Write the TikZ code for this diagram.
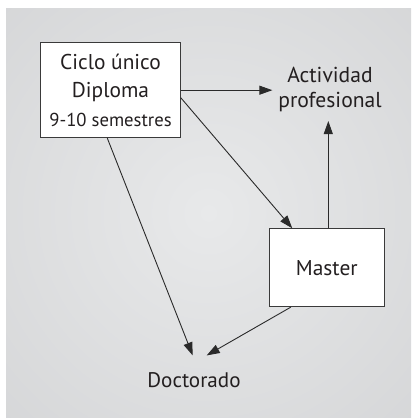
\documentclass[tikz,border=0pt]{standalone}
\usepackage{fontspec}
\setmainfont{PT Sans}
\usetikzlibrary{arrows.meta}
\definecolor{bgin}{HTML}{E8E9EA}
\definecolor{bgout}{HTML}{C4C5C7}
\definecolor{ink}{HTML}{231F20}
\definecolor{boxline}{HTML}{3A3A3A}
\definecolor{arrcol}{HTML}{2A2A2A}
\pgfdeclareradialshading{panelshade}{\pgfpoint{0bp}{0bp}}{color(0bp)=(bgin); color(72bp)=(bgout)}
\begin{document}
\begin{tikzpicture}[x=1pt,y=-1pt,
  box/.style={draw=boxline, fill=white, line width=0.9pt, text=ink, align=center, inner sep=0pt},
  lbl/.style={text=ink, align=center, inner sep=0pt},
  arr/.style={-{Triangle[length=13pt,width=9pt]}, draw=arrcol, line width=0.9pt},
  bigfont/.style={font=\fontsize{21.4}{28.5}\selectfont}]
\fill[white] (0,0) rectangle (411,419);
\path[shading=panelshade] (6,9) rectangle (411,417);
\useasboundingbox (0,0) rectangle (411,419);
\node[box, bigfont, minimum width=139.6pt, minimum height=95pt] (ciclo) at (110.5,90.2)
  {Ciclo único\\Diploma\\\fontsize{18.7}{28.5}\selectfont 9-10 semestres};
\node[box, bigfont, minimum width=115pt, minimum height=78pt] (master) at (326.8,267.7) {Master};
\node[lbl, font=\fontsize{21.6}{25}\selectfont, outer xsep=6pt, outer ysep=9.5pt] (act) at (330,89.2) {Actividad\\profesional};
\node[lbl, font=\fontsize{21.1}{24}\selectfont, outer ysep=17pt] (doc) at (194,380) {Doctorado};
\draw[arr] (ciclo.east) -- (ciclo.east -| act.west);
\draw[arr] ([yshift=-7.5pt]ciclo.east) -- ([xshift=23.4pt]master.north west);
\draw[arr] ([xshift=1.5pt]master.north) -- ([xshift=1.5pt]master.north |- act.south);
\draw[arr] ([xshift=-3.2pt]ciclo.south) -- ([xshift=-1.3pt]doc.north);
\draw[arr] ([xshift=-36pt]master.south) -- ([xshift=12.7pt]doc.north);
\end{tikzpicture}
\end{document}
